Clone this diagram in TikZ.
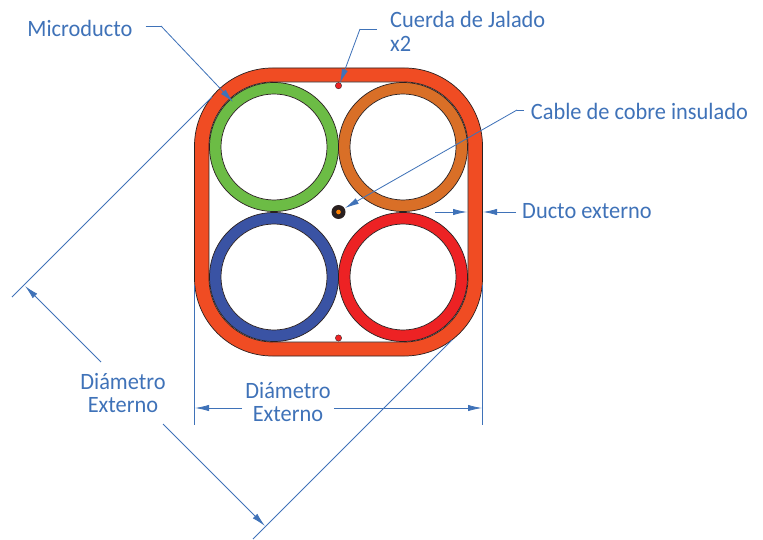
\documentclass[tikz,border=0pt]{standalone}
\usepackage{fontspec}
\setmainfont[FakeStretch=0.955]{Carlito}
\usetikzlibrary{arrows.meta}
\definecolor{azul}{HTML}{3F72B8}
\definecolor{ducto}{HTML}{F04C23}
\definecolor{verde}{HTML}{6CBC45}
\definecolor{naranja}{HTML}{D96F27}
\definecolor{marino}{HTML}{3A53A4}
\definecolor{rojo}{HTML}{ED2224}
\definecolor{borde}{HTML}{2A2020}
\tikzset{
	etiqueta/.style={text=azul,font=\fontsize{20}{20.4}\selectfont,align=center,inner sep=0pt},
	guia/.style={draw=azul,line width=0.7pt},
	flecha/.style={guia,-{Latex[length=4.2mm,width=1.9mm]}},
	microducto/.style={draw=borde,line width=0.6pt,fill=#1}
}
\begin{document}
\begin{tikzpicture}[x=0.03cm,y=-0.03cm]
	\useasboundingbox (0,0) rectangle (763,540);
	% ducto externo
	\draw[borde,fill=ducto,line width=0.6pt,rounded corners=2.34cm] (194.5,68) rectangle (482.5,356);
	\draw[borde,fill=white,line width=0.6pt,rounded corners=1.92cm] (209,82) rectangle (468,342);
	% microductos
	\foreach \cx/\cy/\col in {274/147/verde,403/147/naranja,274/277/marino,403/277/rojo}{
		\draw[microducto=\col] (\cx,\cy) circle (1.935cm);
		\draw[microducto=white] (\cx,\cy) circle (1.59cm);
	}
	% cable y cuerdas
	\node[circle,fill=borde,minimum size=0.42cm,inner sep=0pt] (cable) at (338.5,212) {};
	\node[circle,fill=orange,minimum size=0.14cm,inner sep=0pt] (alma) at (338.5,212) {};
	\node[circle,draw=borde,fill=rojo,line width=0.3pt,minimum size=0.19cm,inner sep=0pt] (cuerdaA) at (338.5,85.7) {};
	\node[circle,draw=borde,fill=rojo,line width=0.3pt,minimum size=0.19cm,inner sep=0pt] (cuerdaB) at (338.5,338) {};

	\node[etiqueta,inner xsep=0.39cm] (lblMicro) at (80,28) {Microducto};
	\node[etiqueta,align=left,anchor=west,inner xsep=0.39cm] (lblCuerda) at (377,31) {Cuerda de Jalado\\x2};
	\node[etiqueta,anchor=west,inner xsep=0.2cm] (lblCable) at (524,111) {Cable de cobre insulado};
	\node[etiqueta,anchor=west,inner xsep=0.18cm] (lblDucto) at (516,211) {Ducto externo};
	\node[etiqueta] (lblDiagonal) at (123,393) {Diámetro\\Externo};
	\node[etiqueta,inner xsep=0.09cm] (lblDiametro) at (288,402) {Diámetro\\Externo};

	\coordinate (microCodo) at (161,26);
	\coordinate (microPunta) at (233,102);
	\coordinate (cuerdaCodo) at (360,29);
	\coordinate (cuerdaPunta) at (340,83);
	\coordinate (cableCodo) at (517,110);
	\coordinate (cablePunta) at (345,208);
	\coordinate (ductoInicio) at (435,212);
	\coordinate (ductoIn) at (467,212);
	\coordinate (ductoOut) at (483,212);
	\coordinate (extA) at (194.5,285);
	\coordinate (extAfin) at (194.5,425);
	\coordinate (extB) at (482,285);
	\coordinate (extBfin) at (482,425);
	\coordinate (cotaIzq) at (195,408);
	\coordinate (cotaDer) at (482,408);
	\coordinate (diagA) at (212,97);
	\coordinate (diagAfin) at (12,297);
	\coordinate (diagB) at (452,340);
	\coordinate (diagBfin) at (253,539);
	\coordinate (diagPuntaA) at (25,286);
	\coordinate (diagPuntaB) at (265,526);
	\coordinate (diagSalidaA) at (101,362);
	\coordinate (diagSalidaB) at (163,424);

	% lineas guia
	\draw[guia] (lblMicro.east |- microCodo) -- (microCodo);
	\draw[flecha] (microCodo) -- (microPunta);
	\draw[guia] (lblCuerda.west |- cuerdaCodo) -- (cuerdaCodo);
	\draw[flecha] (cuerdaCodo) -- (cuerdaPunta);
	\draw[guia] (lblCable.west |- cableCodo) -- (cableCodo);
	\draw[flecha] (cableCodo) -- (cablePunta);
	\draw[flecha] (ductoInicio) -- (ductoIn);
	\draw[flecha] (lblDucto.west |- ductoOut) -- (ductoOut);
	% cotas
	\draw[guia] (extA) -- (extAfin);
	\draw[guia] (extB) -- (extBfin);
	\draw[flecha] (lblDiametro.west |- cotaIzq) -- (cotaIzq);
	\draw[flecha] (lblDiametro.east |- cotaDer) -- (cotaDer);
	\draw[guia] (diagA) -- (diagAfin);
	\draw[guia] (diagB) -- (diagBfin);
	\draw[flecha] (diagSalidaA) -- (diagPuntaA);
	\draw[flecha] (diagSalidaB) -- (diagPuntaB);
\end{tikzpicture}
\end{document}
